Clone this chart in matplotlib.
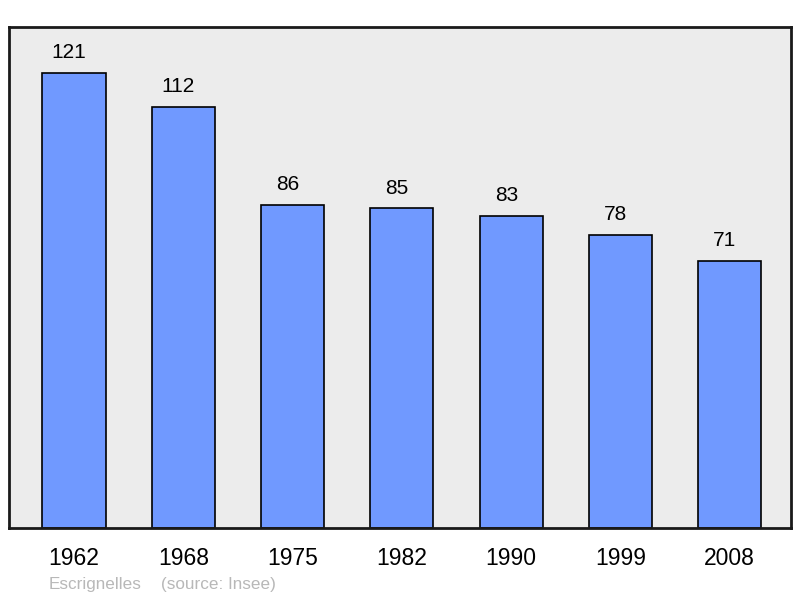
import matplotlib
matplotlib.use("Agg")
import matplotlib.pyplot as plt

years = ["1962", "1968", "1975", "1982", "1990", "1999", "2008"]
population = [121, 112, 86, 85, 83, 78, 71]
commune = "Escrignelles"
source = "(source: Insee)"

plt.rcParams['font.family'] = ['Liberation Sans', 'DejaVu Sans']

fig = plt.figure(figsize=(8, 5.98), dpi=100)
ax = fig.add_axes([9/800, 1-528/598, 782/800, 501/598])
ax.set_facecolor('#ececec')
x = list(range(len(years)))
ax.bar(x, population, width=0.577, color='#7099ff', edgecolor='black', linewidth=1.2, zorder=2)
for xi, v in zip(x, population):
    ax.annotate(str(v), (xi, v), xytext=(-3.5, 14.5), textcoords='offset points',
                ha='center', va='center', fontsize=15, color='black')
ax.set_xlim(-0.595, 6.56)
ax.set_ylim(0, 133.2)
ax.set_yticks([])
ax.set_xticks(x)
ax.set_xticklabels(years, fontsize=16.5)
ax.tick_params(axis='x', length=0, pad=14)
for s in ax.spines.values():
    s.set_linewidth(2)
    s.set_color('#1a1a1a')

fig.text(49/800, 1-584/598, commune, fontsize=12.3, color='#b8b8b8', va='center', ha='left')
fig.text(161/800, 1-584/598, source, fontsize=12.3, color='#b8b8b8', va='center', ha='left')

fig.savefig('out.png', dpi=100, facecolor='white')
